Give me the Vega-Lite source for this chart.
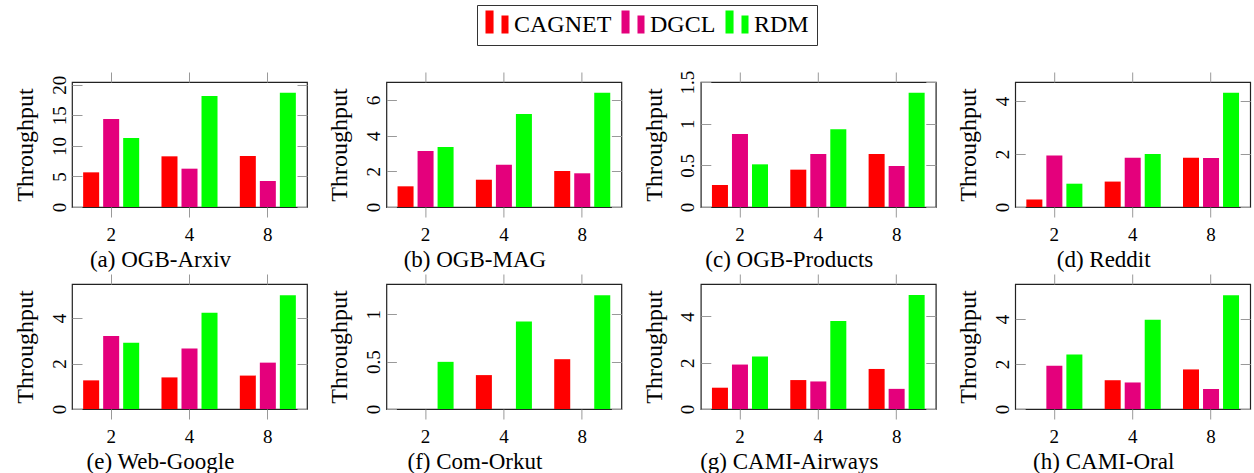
{
"$schema":"https://vega.github.io/schema/vega-lite/v6.json",
"padding":{"left":12,"top":4,"right":0,"bottom":0},
"background":"white",
"data":{"values":[
{"dataset":"OGB-Arxiv","gpus":"2","method":"CAGNET","value":5.67},{"dataset":"OGB-Arxiv","gpus":"2","method":"DGCL","value":14.4},{"dataset":"OGB-Arxiv","gpus":"2","method":"RDM","value":11.29},
{"dataset":"OGB-Arxiv","gpus":"4","method":"CAGNET","value":8.29},{"dataset":"OGB-Arxiv","gpus":"4","method":"DGCL","value":6.27},{"dataset":"OGB-Arxiv","gpus":"4","method":"RDM","value":18.16},
{"dataset":"OGB-Arxiv","gpus":"8","method":"CAGNET","value":8.34},{"dataset":"OGB-Arxiv","gpus":"8","method":"DGCL","value":4.25},{"dataset":"OGB-Arxiv","gpus":"8","method":"RDM","value":18.7},
{"dataset":"OGB-MAG","gpus":"2","method":"CAGNET","value":1.16},{"dataset":"OGB-MAG","gpus":"2","method":"DGCL","value":3.14},{"dataset":"OGB-MAG","gpus":"2","method":"RDM","value":3.36},
{"dataset":"OGB-MAG","gpus":"4","method":"CAGNET","value":1.53},{"dataset":"OGB-MAG","gpus":"4","method":"DGCL","value":2.37},{"dataset":"OGB-MAG","gpus":"4","method":"RDM","value":5.21},
{"dataset":"OGB-MAG","gpus":"8","method":"CAGNET","value":2.02},{"dataset":"OGB-MAG","gpus":"8","method":"DGCL","value":1.89},{"dataset":"OGB-MAG","gpus":"8","method":"RDM","value":6.41},
{"dataset":"OGB-Products","gpus":"2","method":"CAGNET","value":0.264},{"dataset":"OGB-Products","gpus":"2","method":"DGCL","value":0.876},{"dataset":"OGB-Products","gpus":"2","method":"RDM","value":0.512},
{"dataset":"OGB-Products","gpus":"4","method":"CAGNET","value":0.448},{"dataset":"OGB-Products","gpus":"4","method":"DGCL","value":0.636},{"dataset":"OGB-Products","gpus":"4","method":"RDM","value":0.932},
{"dataset":"OGB-Products","gpus":"8","method":"CAGNET","value":0.636},{"dataset":"OGB-Products","gpus":"8","method":"DGCL","value":0.492},{"dataset":"OGB-Products","gpus":"8","method":"RDM","value":1.372},
{"dataset":"Reddit","gpus":"2","method":"CAGNET","value":0.28},{"dataset":"Reddit","gpus":"2","method":"DGCL","value":1.94},{"dataset":"Reddit","gpus":"2","method":"RDM","value":0.88},
{"dataset":"Reddit","gpus":"4","method":"CAGNET","value":0.96},{"dataset":"Reddit","gpus":"4","method":"DGCL","value":1.86},{"dataset":"Reddit","gpus":"4","method":"RDM","value":2.0},
{"dataset":"Reddit","gpus":"8","method":"CAGNET","value":1.86},{"dataset":"Reddit","gpus":"8","method":"DGCL","value":1.85},{"dataset":"Reddit","gpus":"8","method":"RDM","value":4.31},
{"dataset":"Web-Google","gpus":"2","method":"CAGNET","value":1.26},{"dataset":"Web-Google","gpus":"2","method":"DGCL","value":3.21},{"dataset":"Web-Google","gpus":"2","method":"RDM","value":2.91},
{"dataset":"Web-Google","gpus":"4","method":"CAGNET","value":1.39},{"dataset":"Web-Google","gpus":"4","method":"DGCL","value":2.66},{"dataset":"Web-Google","gpus":"4","method":"RDM","value":4.23},
{"dataset":"Web-Google","gpus":"8","method":"CAGNET","value":1.47},{"dataset":"Web-Google","gpus":"8","method":"DGCL","value":2.04},{"dataset":"Web-Google","gpus":"8","method":"RDM","value":5.01},
{"dataset":"Com-Orkut","gpus":"2","method":"RDM","value":0.498},
{"dataset":"Com-Orkut","gpus":"4","method":"CAGNET","value":0.358},{"dataset":"Com-Orkut","gpus":"4","method":"RDM","value":0.923},
{"dataset":"Com-Orkut","gpus":"8","method":"CAGNET","value":0.526},{"dataset":"Com-Orkut","gpus":"8","method":"RDM","value":1.2},
{"dataset":"CAMI-Airways","gpus":"2","method":"CAGNET","value":0.92},{"dataset":"CAMI-Airways","gpus":"2","method":"DGCL","value":1.92},{"dataset":"CAMI-Airways","gpus":"2","method":"RDM","value":2.27},
{"dataset":"CAMI-Airways","gpus":"4","method":"CAGNET","value":1.25},{"dataset":"CAMI-Airways","gpus":"4","method":"DGCL","value":1.19},{"dataset":"CAMI-Airways","gpus":"4","method":"RDM","value":3.8},
{"dataset":"CAMI-Airways","gpus":"8","method":"CAGNET","value":1.73},{"dataset":"CAMI-Airways","gpus":"8","method":"DGCL","value":0.87},{"dataset":"CAMI-Airways","gpus":"8","method":"RDM","value":4.92},
{"dataset":"CAMI-Oral","gpus":"2","method":"DGCL","value":1.92},{"dataset":"CAMI-Oral","gpus":"2","method":"RDM","value":2.42},
{"dataset":"CAMI-Oral","gpus":"4","method":"CAGNET","value":1.28},{"dataset":"CAMI-Oral","gpus":"4","method":"DGCL","value":1.18},{"dataset":"CAMI-Oral","gpus":"4","method":"RDM","value":3.97},
{"dataset":"CAMI-Oral","gpus":"8","method":"CAGNET","value":1.76},{"dataset":"CAMI-Oral","gpus":"8","method":"DGCL","value":0.89},{"dataset":"CAMI-Oral","gpus":"8","method":"RDM","value":5.06}
]},
"columns":4,
"spacing":{"row":-1,"column":17.4},
"resolve":{"scale":{"y":"independent","x":"independent"}},
"concat":[
{"width":235,"height":125,
 "title":{"text":"(a) OGB-Arxiv","orient":"bottom","anchor":"middle","frame":"bounds","baseline":"top","offset":5},
 "transform":[{"filter":"datum.dataset === 'OGB-Arxiv'"}],
 "layer":[
  {"mark":"bar","encoding":{
   "x":{"field":"gpus","type":"nominal","scale":{"paddingInner":0,"paddingOuter":0},"axis":{"orient":"bottom","title":null,"labelAngle":0,"tickSize":10,"labelPadding":8}},
   "xOffset":{"field":"method","type":"nominal","scale":{"domain":["CAGNET","DGCL","RDM"],"paddingInner":0.2,"paddingOuter":0.557}},
   "y":{"field":"value","type":"quantitative","scale":{"domain":[0,20.45],"nice":false},"axis":{"orient":"left","title":"Throughput","values":[0,5,10,15,20],"format":"~g","labelAngle":-90,"labelAlign":"center","labelBaseline":"bottom","tickSize":-10,"labelPadding":13,"minExtent":25,"maxExtent":25,"titlePadding":9.5}},
   "color":{"field":"method","type":"nominal","scale":{"domain":["CAGNET","DGCL","RDM"],"range":["#ff0000","#e4007c","#00ff00"]},"legend":{"orient":"none","legendX":405,"legendY":-77,"direction":"horizontal","title":null,"symbolType":"M-1,-1.26H-0.3V0.74H-1Z M0.39,-0.83H1V0.74H0.39Z","symbolSize":529,"symbolStrokeWidth":0,"labelFontSize":24,"labelFont":"Liberation Serif","labelColor":"black","labelOffset":5,"columnPadding":9,"padding":8,"strokeColor":"#333","fillColor":"white"}}
  }},
  {"mark":{"type":"bar","opacity":0},"encoding":{
   "x":{"field":"gpus","type":"nominal","axis":{"orient":"top","title":null,"labels":false,"tickSize":10}},
   "y":{"field":"value","type":"quantitative","stack":null,"axis":{"orient":"right","title":null,"labels":false,"values":[0,5,10,15,20],"tickSize":-10,"minExtent":0,"maxExtent":0}}
  }}
 ]},
{"width":235,"height":125,
 "title":{"text":"(b) OGB-MAG","orient":"bottom","anchor":"middle","frame":"bounds","baseline":"top","offset":5},
 "transform":[{"filter":"datum.dataset === 'OGB-MAG'"}],
 "layer":[
  {"mark":"bar","encoding":{
   "x":{"field":"gpus","type":"nominal","scale":{"paddingInner":0,"paddingOuter":0},"axis":{"orient":"bottom","title":null,"labelAngle":0,"tickSize":10,"labelPadding":8}},
   "xOffset":{"field":"method","type":"nominal","scale":{"domain":["CAGNET","DGCL","RDM"],"paddingInner":0.2,"paddingOuter":0.557}},
   "y":{"field":"value","type":"quantitative","scale":{"domain":[0,7.01],"nice":false},"axis":{"orient":"left","title":"Throughput","values":[0,2,4,6],"format":"~g","labelAngle":-90,"labelAlign":"center","labelBaseline":"bottom","tickSize":-10,"labelPadding":13,"minExtent":25,"maxExtent":25,"titlePadding":9.5}},
   "color":{"field":"method","type":"nominal","scale":{"domain":["CAGNET","DGCL","RDM"],"range":["#ff0000","#e4007c","#00ff00"]},"legend":{"orient":"none","legendX":405,"legendY":-77,"direction":"horizontal","title":null,"symbolType":"M-1,-1.26H-0.3V0.74H-1Z M0.39,-0.83H1V0.74H0.39Z","symbolSize":529,"symbolStrokeWidth":0,"labelFontSize":24,"labelFont":"Liberation Serif","labelColor":"black","labelOffset":5,"columnPadding":9,"padding":8,"strokeColor":"#333","fillColor":"white"}}
  }},
  {"mark":{"type":"bar","opacity":0},"encoding":{
   "x":{"field":"gpus","type":"nominal","axis":{"orient":"top","title":null,"labels":false,"tickSize":10}},
   "y":{"field":"value","type":"quantitative","stack":null,"axis":{"orient":"right","title":null,"labels":false,"values":[0,2,4,6],"tickSize":-10,"minExtent":0,"maxExtent":0}}
  }}
 ]},
{"width":235,"height":125,
 "title":{"text":"(c) OGB-Products","orient":"bottom","anchor":"middle","frame":"bounds","baseline":"top","offset":5},
 "transform":[{"filter":"datum.dataset === 'OGB-Products'"}],
 "layer":[
  {"mark":"bar","encoding":{
   "x":{"field":"gpus","type":"nominal","scale":{"paddingInner":0,"paddingOuter":0},"axis":{"orient":"bottom","title":null,"labelAngle":0,"tickSize":10,"labelPadding":8}},
   "xOffset":{"field":"method","type":"nominal","scale":{"domain":["CAGNET","DGCL","RDM"],"paddingInner":0.2,"paddingOuter":0.557}},
   "y":{"field":"value","type":"quantitative","scale":{"domain":[0,1.5],"nice":false},"axis":{"orient":"left","title":"Throughput","values":[0,0.5,1,1.5],"format":"~g","labelAngle":-90,"labelAlign":"center","labelBaseline":"bottom","tickSize":-10,"labelPadding":13,"minExtent":25,"maxExtent":25,"titlePadding":9.5}},
   "color":{"field":"method","type":"nominal","scale":{"domain":["CAGNET","DGCL","RDM"],"range":["#ff0000","#e4007c","#00ff00"]},"legend":{"orient":"none","legendX":405,"legendY":-77,"direction":"horizontal","title":null,"symbolType":"M-1,-1.26H-0.3V0.74H-1Z M0.39,-0.83H1V0.74H0.39Z","symbolSize":529,"symbolStrokeWidth":0,"labelFontSize":24,"labelFont":"Liberation Serif","labelColor":"black","labelOffset":5,"columnPadding":9,"padding":8,"strokeColor":"#333","fillColor":"white"}}
  }},
  {"mark":{"type":"bar","opacity":0},"encoding":{
   "x":{"field":"gpus","type":"nominal","axis":{"orient":"top","title":null,"labels":false,"tickSize":10}},
   "y":{"field":"value","type":"quantitative","stack":null,"axis":{"orient":"right","title":null,"labels":false,"values":[0,0.5,1,1.5],"tickSize":-10,"minExtent":0,"maxExtent":0}}
  }}
 ]},
{"width":235,"height":125,
 "title":{"text":"(d) Reddit","orient":"bottom","anchor":"middle","frame":"bounds","baseline":"top","offset":5},
 "transform":[{"filter":"datum.dataset === 'Reddit'"}],
 "layer":[
  {"mark":"bar","encoding":{
   "x":{"field":"gpus","type":"nominal","scale":{"paddingInner":0,"paddingOuter":0},"axis":{"orient":"bottom","title":null,"labelAngle":0,"tickSize":10,"labelPadding":8}},
   "xOffset":{"field":"method","type":"nominal","scale":{"domain":["CAGNET","DGCL","RDM"],"paddingInner":0.2,"paddingOuter":0.557}},
   "y":{"field":"value","type":"quantitative","scale":{"domain":[0,4.72],"nice":false},"axis":{"orient":"left","title":"Throughput","values":[0,2,4],"format":"~g","labelAngle":-90,"labelAlign":"center","labelBaseline":"bottom","tickSize":-10,"labelPadding":13,"minExtent":25,"maxExtent":25,"titlePadding":9.5}},
   "color":{"field":"method","type":"nominal","scale":{"domain":["CAGNET","DGCL","RDM"],"range":["#ff0000","#e4007c","#00ff00"]},"legend":{"orient":"none","legendX":405,"legendY":-77,"direction":"horizontal","title":null,"symbolType":"M-1,-1.26H-0.3V0.74H-1Z M0.39,-0.83H1V0.74H0.39Z","symbolSize":529,"symbolStrokeWidth":0,"labelFontSize":24,"labelFont":"Liberation Serif","labelColor":"black","labelOffset":5,"columnPadding":9,"padding":8,"strokeColor":"#333","fillColor":"white"}}
  }},
  {"mark":{"type":"bar","opacity":0},"encoding":{
   "x":{"field":"gpus","type":"nominal","axis":{"orient":"top","title":null,"labels":false,"tickSize":10}},
   "y":{"field":"value","type":"quantitative","stack":null,"axis":{"orient":"right","title":null,"labels":false,"values":[0,2,4],"tickSize":-10,"minExtent":0,"maxExtent":0}}
  }}
 ]},
{"width":235,"height":125,
 "title":{"text":"(e) Web-Google","orient":"bottom","anchor":"middle","frame":"bounds","baseline":"top","offset":5},
 "transform":[{"filter":"datum.dataset === 'Web-Google'"}],
 "layer":[
  {"mark":"bar","encoding":{
   "x":{"field":"gpus","type":"nominal","scale":{"paddingInner":0,"paddingOuter":0},"axis":{"orient":"bottom","title":null,"labelAngle":0,"tickSize":10,"labelPadding":8}},
   "xOffset":{"field":"method","type":"nominal","scale":{"domain":["CAGNET","DGCL","RDM"],"paddingInner":0.2,"paddingOuter":0.557}},
   "y":{"field":"value","type":"quantitative","scale":{"domain":[0,5.5],"nice":false},"axis":{"orient":"left","title":"Throughput","values":[0,2,4],"format":"~g","labelAngle":-90,"labelAlign":"center","labelBaseline":"bottom","tickSize":-10,"labelPadding":13,"minExtent":25,"maxExtent":25,"titlePadding":9.5}},
   "color":{"field":"method","type":"nominal","scale":{"domain":["CAGNET","DGCL","RDM"],"range":["#ff0000","#e4007c","#00ff00"]},"legend":{"orient":"none","legendX":405,"legendY":-77,"direction":"horizontal","title":null,"symbolType":"M-1,-1.26H-0.3V0.74H-1Z M0.39,-0.83H1V0.74H0.39Z","symbolSize":529,"symbolStrokeWidth":0,"labelFontSize":24,"labelFont":"Liberation Serif","labelColor":"black","labelOffset":5,"columnPadding":9,"padding":8,"strokeColor":"#333","fillColor":"white"}}
  }},
  {"mark":{"type":"bar","opacity":0},"encoding":{
   "x":{"field":"gpus","type":"nominal","axis":{"orient":"top","title":null,"labels":false,"tickSize":10}},
   "y":{"field":"value","type":"quantitative","stack":null,"axis":{"orient":"right","title":null,"labels":false,"values":[0,2,4],"tickSize":-10,"minExtent":0,"maxExtent":0}}
  }}
 ]},
{"width":235,"height":125,
 "title":{"text":"(f) Com-Orkut","orient":"bottom","anchor":"middle","frame":"bounds","baseline":"top","offset":5},
 "transform":[{"filter":"datum.dataset === 'Com-Orkut'"}],
 "layer":[
  {"mark":"bar","encoding":{
   "x":{"field":"gpus","type":"nominal","scale":{"domain":["2","4","8"],"paddingInner":0,"paddingOuter":0},"axis":{"orient":"bottom","title":null,"labelAngle":0,"tickSize":10,"labelPadding":8}},
   "xOffset":{"field":"method","type":"nominal","scale":{"domain":["CAGNET","DGCL","RDM"],"paddingInner":0.2,"paddingOuter":0.557}},
   "y":{"field":"value","type":"quantitative","scale":{"domain":[0,1.32],"nice":false},"axis":{"orient":"left","title":"Throughput","values":[0,0.5,1],"format":"~g","labelAngle":-90,"labelAlign":"center","labelBaseline":"bottom","tickSize":-10,"labelPadding":13,"minExtent":25,"maxExtent":25,"titlePadding":9.5}},
   "color":{"field":"method","type":"nominal","scale":{"domain":["CAGNET","DGCL","RDM"],"range":["#ff0000","#e4007c","#00ff00"]},"legend":{"orient":"none","legendX":405,"legendY":-77,"direction":"horizontal","title":null,"symbolType":"M-1,-1.26H-0.3V0.74H-1Z M0.39,-0.83H1V0.74H0.39Z","symbolSize":529,"symbolStrokeWidth":0,"labelFontSize":24,"labelFont":"Liberation Serif","labelColor":"black","labelOffset":5,"columnPadding":9,"padding":8,"strokeColor":"#333","fillColor":"white"}}
  }},
  {"mark":{"type":"bar","opacity":0},"encoding":{
   "x":{"field":"gpus","type":"nominal","axis":{"orient":"top","title":null,"labels":false,"tickSize":10}},
   "y":{"field":"value","type":"quantitative","stack":null,"axis":{"orient":"right","title":null,"labels":false,"values":[0,0.5,1],"tickSize":-10,"minExtent":0,"maxExtent":0}}
  }}
 ]},
{"width":235,"height":125,
 "title":{"text":"(g) CAMI-Airways","orient":"bottom","anchor":"middle","frame":"bounds","baseline":"top","offset":5},
 "transform":[{"filter":"datum.dataset === 'CAMI-Airways'"}],
 "layer":[
  {"mark":"bar","encoding":{
   "x":{"field":"gpus","type":"nominal","scale":{"paddingInner":0,"paddingOuter":0},"axis":{"orient":"bottom","title":null,"labelAngle":0,"tickSize":10,"labelPadding":8}},
   "xOffset":{"field":"method","type":"nominal","scale":{"domain":["CAGNET","DGCL","RDM"],"paddingInner":0.2,"paddingOuter":0.557}},
   "y":{"field":"value","type":"quantitative","scale":{"domain":[0,5.4],"nice":false},"axis":{"orient":"left","title":"Throughput","values":[0,2,4],"format":"~g","labelAngle":-90,"labelAlign":"center","labelBaseline":"bottom","tickSize":-10,"labelPadding":13,"minExtent":25,"maxExtent":25,"titlePadding":9.5}},
   "color":{"field":"method","type":"nominal","scale":{"domain":["CAGNET","DGCL","RDM"],"range":["#ff0000","#e4007c","#00ff00"]},"legend":{"orient":"none","legendX":405,"legendY":-77,"direction":"horizontal","title":null,"symbolType":"M-1,-1.26H-0.3V0.74H-1Z M0.39,-0.83H1V0.74H0.39Z","symbolSize":529,"symbolStrokeWidth":0,"labelFontSize":24,"labelFont":"Liberation Serif","labelColor":"black","labelOffset":5,"columnPadding":9,"padding":8,"strokeColor":"#333","fillColor":"white"}}
  }},
  {"mark":{"type":"bar","opacity":0},"encoding":{
   "x":{"field":"gpus","type":"nominal","axis":{"orient":"top","title":null,"labels":false,"tickSize":10}},
   "y":{"field":"value","type":"quantitative","stack":null,"axis":{"orient":"right","title":null,"labels":false,"values":[0,2,4],"tickSize":-10,"minExtent":0,"maxExtent":0}}
  }}
 ]},
{"width":235,"height":125,
 "title":{"text":"(h) CAMI-Oral","orient":"bottom","anchor":"middle","frame":"bounds","baseline":"top","offset":5},
 "transform":[{"filter":"datum.dataset === 'CAMI-Oral'"}],
 "layer":[
  {"mark":"bar","encoding":{
   "x":{"field":"gpus","type":"nominal","scale":{"paddingInner":0,"paddingOuter":0},"axis":{"orient":"bottom","title":null,"labelAngle":0,"tickSize":10,"labelPadding":8}},
   "xOffset":{"field":"method","type":"nominal","scale":{"domain":["CAGNET","DGCL","RDM"],"paddingInner":0.2,"paddingOuter":0.557}},
   "y":{"field":"value","type":"quantitative","scale":{"domain":[0,5.56],"nice":false},"axis":{"orient":"left","title":"Throughput","values":[0,2,4],"format":"~g","labelAngle":-90,"labelAlign":"center","labelBaseline":"bottom","tickSize":-10,"labelPadding":13,"minExtent":25,"maxExtent":25,"titlePadding":9.5}},
   "color":{"field":"method","type":"nominal","scale":{"domain":["CAGNET","DGCL","RDM"],"range":["#ff0000","#e4007c","#00ff00"]},"legend":{"orient":"none","legendX":405,"legendY":-77,"direction":"horizontal","title":null,"symbolType":"M-1,-1.26H-0.3V0.74H-1Z M0.39,-0.83H1V0.74H0.39Z","symbolSize":529,"symbolStrokeWidth":0,"labelFontSize":24,"labelFont":"Liberation Serif","labelColor":"black","labelOffset":5,"columnPadding":9,"padding":8,"strokeColor":"#333","fillColor":"white"}}
  }},
  {"mark":{"type":"bar","opacity":0},"encoding":{
   "x":{"field":"gpus","type":"nominal","axis":{"orient":"top","title":null,"labels":false,"tickSize":10}},
   "y":{"field":"value","type":"quantitative","stack":null,"axis":{"orient":"right","title":null,"labels":false,"values":[0,2,4],"tickSize":-10,"minExtent":0,"maxExtent":0}}
  }}
 ]}
],
"config":{
 "font":"Liberation Serif",
 "view":{"stroke":"#222","strokeWidth":1.2},
 "axis":{"labelFont":"Liberation Serif","labelFontSize":19,"labelColor":"black","titleFont":"Liberation Serif","titleFontSize":24,"titleFontWeight":"normal","titleColor":"black","domain":false,"grid":false,"tickColor":"#999","tickWidth":1,"labelFlush":false},
 "title":{"font":"Liberation Serif","fontSize":23,"fontWeight":"normal","color":"black"}
}
}
